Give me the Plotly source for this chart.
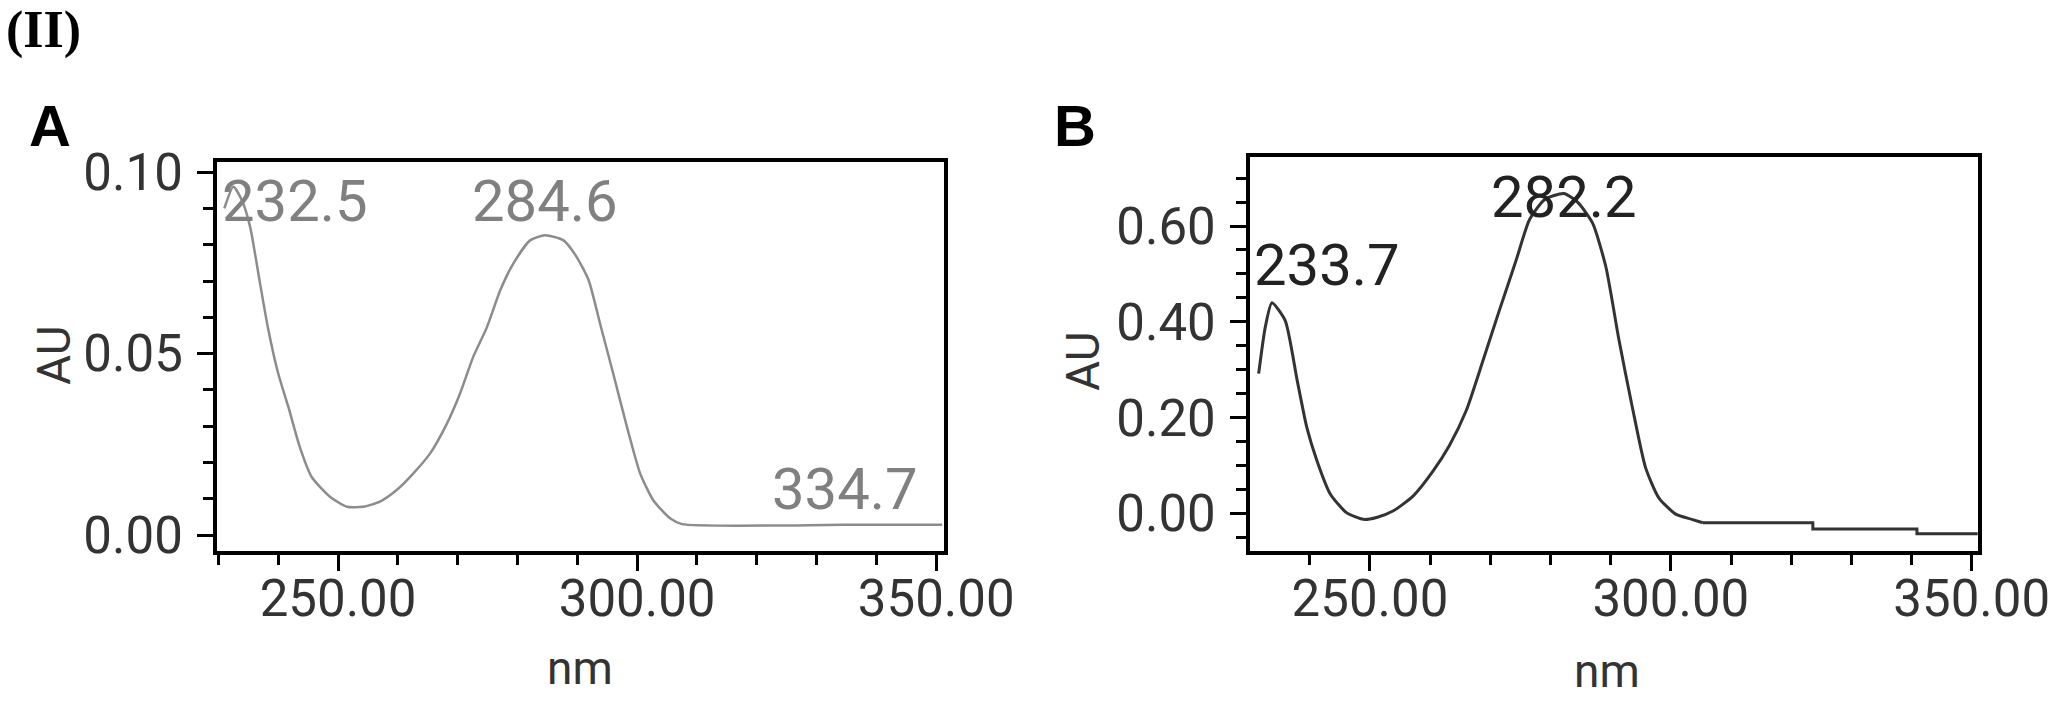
import plotly.graph_objects as go

# panel A spectrum (nm, AU)
nm_a = [231.0, 232.5, 234.0, 235.3, 237.0, 238.3, 240.0, 241.7, 243.6, 245.6, 248.7,
        251.5, 254.2, 257.0, 259.8, 262.6, 265.4, 268.2, 270.4, 272.6, 274.9, 277.1,
        279.3, 282.1, 284.6, 287.7, 289.9, 291.9, 293.8, 296.0, 298.3, 300.5, 302.7,
        305.5, 307.5, 334.7, 351.0]
au_a = [0.090, 0.096, 0.092, 0.085, 0.069, 0.057, 0.0445, 0.0353, 0.0243, 0.0160, 0.0105,
        0.0078, 0.0078, 0.0092, 0.0124, 0.0170, 0.0225, 0.0307, 0.0390, 0.0491, 0.0573, 0.0674,
        0.0748, 0.0812, 0.0826, 0.0812, 0.0766, 0.0702, 0.0583, 0.0445, 0.0298, 0.0170, 0.0096,
        0.0046, 0.0030, 0.0028, 0.0028]

# panel B spectrum
nm_b = [231.5, 232.6, 233.7, 235.9, 237.9, 239.5, 241.2, 243.4, 246.1, 248.9, 251.1,
        253.9, 257.2, 260.5, 263.2, 266.0, 268.8, 271.5, 274.3, 276.5, 279.0, 282.2,
        284.5, 287.0, 289.2, 291.4, 293.6, 295.8, 298.0, 300.8, 303.5, 305.3, 323.6,
        323.6, 340.9, 340.9, 351.0]
au_b = [0.292, 0.389, 0.440, 0.403, 0.278, 0.180, 0.110, 0.041, 0.002, -0.012, -0.008,
        0.006, 0.037, 0.089, 0.142, 0.215, 0.320, 0.424, 0.529, 0.613, 0.655, 0.668,
        0.650, 0.606, 0.515, 0.361, 0.222, 0.096, 0.033, -0.001, -0.012, -0.019, -0.019,
        -0.032, -0.032, -0.042, -0.042]
tail_b = 31  # index where the stepped baseline of B starts

# peak labels: (text, x, y)
peaks_a = [("232.5", 231.0, 0.092), ("284.6", 284.6, 0.092), ("334.7", 334.7, 0.0128)]
peaks_b = [("233.7", 231.0, 0.518), ("282.2", 282.2, 0.660)]

x_ticks = [250, 300, 350]
x_ticktext = ["250.00", "300.00", "350.00"]
ya_ticks = [0, 0.05, 0.10]
ya_ticktext = ["0.00", "0.05", "0.10"]
yb_ticks = [0, 0.2, 0.4, 0.6]
yb_ticktext = ["0.00", "0.20", "0.40", "0.60"]

FONT = "Roboto, DejaVu Sans"
TICKFONT = dict(family=FONT, size=51, color="#333333")

fig = go.Figure()
fig.add_trace(go.Scatter(x=nm_a, y=au_a, mode="lines",
                         line=dict(color="#8c8c8c", width=2.5, shape="spline", smoothing=0.6),
                         xaxis="x", yaxis="y", showlegend=False))
fig.add_trace(go.Scatter(x=nm_b[:tail_b + 1], y=au_b[:tail_b + 1], mode="lines",
                         line=dict(color="#333333", width=3, shape="spline", smoothing=0.6),
                         xaxis="x2", yaxis="y2", showlegend=False))
fig.add_trace(go.Scatter(x=nm_b[tail_b:], y=au_b[tail_b:], mode="lines",
                         line=dict(color="#333333", width=3),
                         xaxis="x2", yaxis="y2", showlegend=False))

axis_common = dict(showline=True, linecolor="black", linewidth=4, mirror=True,
                   ticks="outside", ticklen=16, tickwidth=3, tickcolor="black",
                   showgrid=False, zeroline=False, tickfont=TICKFONT, automargin=False)
minor_x = dict(dtick=10, tick0=0, ticks="outside", ticklen=10, tickwidth=3, tickcolor="black")

fig.update_layout(
    width=2061, height=706,
    margin=dict(l=0, r=0, t=0, b=0, autoexpand=False),
    paper_bgcolor="white", plot_bgcolor="white",
    xaxis=dict(domain=[0.10529, 0.45803], range=[229.77, 351.3], anchor="y",
               tickvals=x_ticks, ticktext=x_ticktext, minor=minor_x,
               ticklabelstandoff=-16, **axis_common),
    yaxis=dict(domain=[0.21955, 0.77054], range=[-0.0044, 0.1028], anchor="x",
               tickvals=ya_ticks, ticktext=ya_ticktext,
               minor=dict(dtick=0.01, tick0=0, ticks="outside", ticklen=10, tickwidth=3, tickcolor="black"),
               ticklabelstandoff=4, **axis_common),
    xaxis2=dict(domain=[0.60650, 0.95973], range=[230.06, 351.05], anchor="y2",
                tickvals=x_ticks, ticktext=x_ticktext, minor=minor_x,
                ticklabelstandoff=-16, **axis_common),
    yaxis2=dict(domain=[0.21955, 0.77762], range=[-0.078, 0.744], anchor="x2",
                tickvals=yb_ticks, ticktext=yb_ticktext,
                minor=dict(dtick=0.05, tick0=0, ticks="outside", ticklen=10, tickwidth=3, tickcolor="black"),
                ticklabelstandoff=4, **axis_common),
)

# peak labels
for txt, x, y in peaks_a:
    left = x < 240
    fig.add_annotation(x=x, y=y, xref="x", yref="y", text=txt, showarrow=False,
                       xanchor="left" if left else "center", yanchor="middle",
                       xshift=-4 if left else 0,
                       font=dict(family=FONT, size=58, color="#808080"))
for txt, x, y in peaks_b:
    left = x < 240
    fig.add_annotation(x=x, y=y, xref="x2", yref="y2", text=txt, showarrow=False,
                       xanchor="left" if left else "center", yanchor="middle",
                       xshift=-4 if left else 0,
                       font=dict(family=FONT, size=58, color="#222222"))

# axis titles
for xc, yc in [(54, 356), (1083, 362)]:
    fig.add_annotation(x=xc / 2061, y=1 - yc / 706, xref="paper", yref="paper", text="AU",
                       showarrow=False, textangle=-90, xanchor="center", yanchor="middle",
                       font=dict(family=FONT, size=46, color="#333333"))
for xc, yc in [(580, 668), (1607, 671)]:
    fig.add_annotation(x=xc / 2061, y=1 - yc / 706, xref="paper", yref="paper", text="nm",
                       showarrow=False, xanchor="center", yanchor="middle",
                       font=dict(family=FONT, size=46, color="#333333"))

# panel letters and figure label
for txt, xc in [("A", 50), ("B", 1075)]:
    fig.add_annotation(x=xc / 2061, y=1 - 126 / 706, xref="paper", yref="paper", text="<b>" + txt + "</b>",
                       showarrow=False, xanchor="center", yanchor="middle",
                       font=dict(family="Liberation Sans, Arial", size=58, color="black"))
fig.add_annotation(x=4 / 2061, y=1 - 30 / 706, xref="paper", yref="paper", text="<b>(II)</b>",
                   showarrow=False, xanchor="left", yanchor="middle",
                   font=dict(family="Liberation Serif, Times New Roman", size=52, color="black"))

fig.write_html("out.html", config={"displayModeBar": False},
               post_script="document.body.style.margin='0';document.body.style.overflow='hidden';")
